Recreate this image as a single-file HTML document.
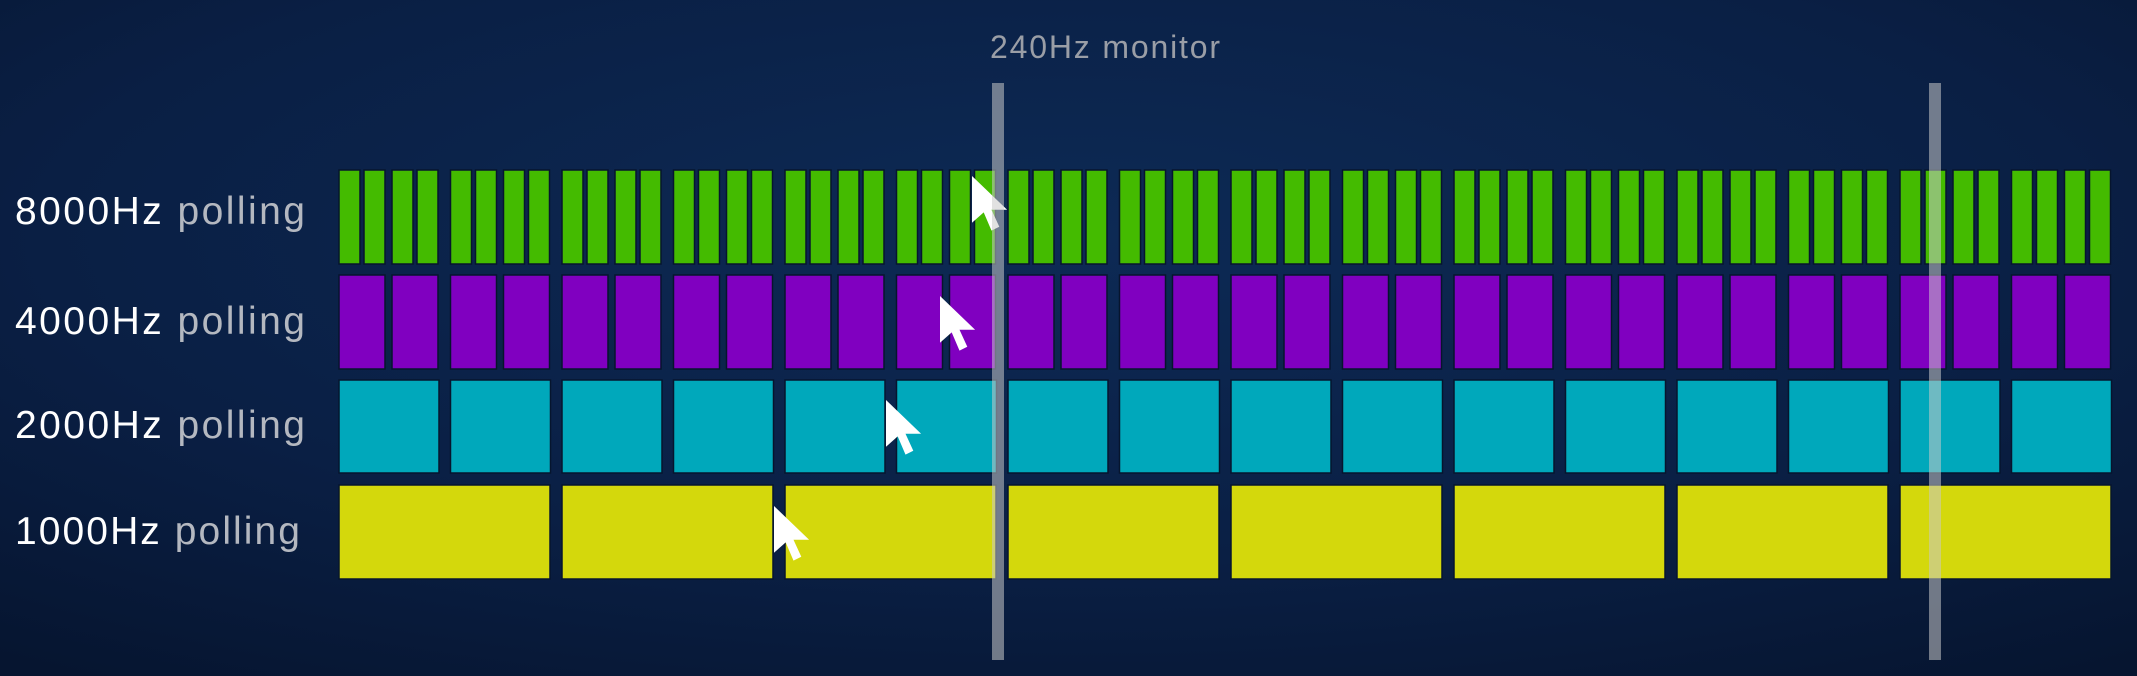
<!DOCTYPE html>
<html><head><meta charset="utf-8"><style>
html,body{margin:0;padding:0;width:2137px;height:676px;overflow:hidden;background:#0a1f44;}
svg{display:block}
</style></head><body>
<svg width="2137" height="676" viewBox="0 0 2137 676" xmlns="http://www.w3.org/2000/svg">
<defs>
<radialGradient id="bg" cx="0.5" cy="0.35" r="0.8">
<stop offset="0" stop-color="#0d2a55"/>
<stop offset="0.6" stop-color="#0a1f44"/>
<stop offset="1" stop-color="#061530"/>
</radialGradient>
<g id="cur"><path d="M0,0 L0,36 L9,28 L15,42 L21,39 L15,26 L27,26 Z" fill="#fff" transform="scale(1.3)"/></g>
</defs>
<rect width="2137" height="676" fill="url(#bg)"/>
<g id="bars" stroke="#06152e" stroke-width="1.5"></g>
<g font-family="Liberation Sans, sans-serif" font-size="39">
<text x="15" y="224" textLength="290" lengthAdjust="spacing"><tspan fill="#fff">8000Hz</tspan><tspan fill="#b4b8c0"> polling</tspan></text>
<text x="15" y="334" textLength="290" lengthAdjust="spacing"><tspan fill="#fff">4000Hz</tspan><tspan fill="#b4b8c0"> polling</tspan></text>
<text x="15" y="438" textLength="290" lengthAdjust="spacing"><tspan fill="#fff">2000Hz</tspan><tspan fill="#b4b8c0"> polling</tspan></text>
<text x="15" y="544" textLength="285" lengthAdjust="spacing"><tspan fill="#fff">1000Hz</tspan><tspan fill="#b4b8c0"> polling</tspan></text>
<text x="990" y="58" font-size="32" fill="#9a9ea6" textLength="230" lengthAdjust="spacing">240Hz monitor</text>
</g>
<use href="#cur" x="972" y="176"/>
<use href="#cur" x="940" y="296"/>
<use href="#cur" x="886" y="400"/>
<use href="#cur" x="774" y="506"/>
<rect x="992" y="83" width="12" height="577" fill="#c8c8c8" opacity="0.55"/>
<rect x="1929" y="83" width="12" height="577" fill="#c8c8c8" opacity="0.55"/>
</svg>
<script>
(function(){
var g=document.getElementById('bars'),ns='http://www.w3.org/2000/svg';
function r(x,y,w,h,c){var e=document.createElementNS(ns,'rect');e.setAttribute('x',x);e.setAttribute('y',y);e.setAttribute('width',w);e.setAttribute('height',h);e.setAttribute('fill',c);g.appendChild(e);}
var x0=339,P=223;
for(var i=0;i<8;i++){var b=x0+i*P;
 r(b,485,211,94,'#d4d80c');
 for(var j=0;j<2;j++){var c=b+j*111.5;
  r(c,380,100,93,'#00a8bb');
  r(c,275,46,94,'#8000c0');r(c+53,275,46,94,'#8000c0');
  [0,25,53,78].forEach(function(o){r(c+o,170,21,94,'#44bb00');});
 }}
})();
</script>
</body></html>
